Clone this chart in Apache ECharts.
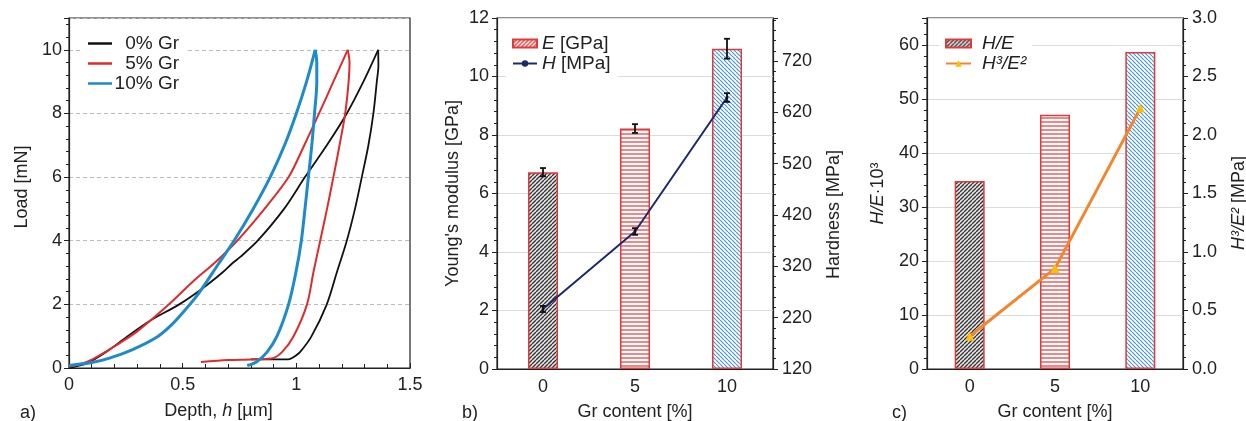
<!DOCTYPE html>
<html>
<head>
<meta charset="utf-8">
<script src="https://cdn.jsdelivr.net/npm/echarts@6.0.0/dist/echarts.min.js"></script>
<style>
  html, body { margin: 0; padding: 0; background: #fff; }
  #main { width: 1246px; height: 421px; }
</style>
</head>
<body>
<div id="main"></div>
<script>
// panel a: load-depth curves [depth um, load mN], loading and unloading
var gr0Load = [[0, 0], [0.08, 0.15], [0.163, 0.5], [0.258, 1], [0.36, 1.5], [0.485, 2], [0.587, 2.5], [0.675, 3], [0.72, 3.3], [0.755, 3.5], [0.83, 4], [0.946, 5], [1.038, 6], [1.134, 7], [1.222, 8], [1.295, 9], [1.36, 10]];
var gr0Unload = [[1.36, 10], [1.361, 9.5], [1.354, 9], [1.339, 8], [1.317, 7], [1.288, 6], [1.258, 5], [1.222, 4], [1.178, 3], [1.134, 2], [1.067, 1], [1.016, 0.5], [0.985, 0.33], [0.965, 0.27], [0.8, 0.27]];
var gr5Load = [[0, 0.05], [0.05, 0.12], [0.105, 0.28], [0.2, 0.68], [0.3, 1.15], [0.44, 2], [0.55, 2.75], [0.64, 3.3], [0.74, 4], [0.86, 5], [0.966, 6], [1.035, 7], [1.1, 8], [1.163, 9], [1.226, 10]];
var gr5Unload = [[1.226, 10], [1.234, 9.6], [1.23, 9], [1.215, 8], [1.19, 7], [1.163, 6], [1.135, 5], [1.105, 4], [1.075, 3], [1.047, 2], [0.988, 1], [0.937, 0.5], [0.89, 0.3], [0.8, 0.27], [0.7, 0.25], [0.58, 0.19]];
var gr10Load = [[0, 0.08], [0.1, 0.17], [0.178, 0.31], [0.28, 0.58], [0.38, 0.94], [0.45, 1.35], [0.514, 1.85], [0.572, 2.36], [0.66, 3.3], [0.726, 4], [0.81, 5], [0.885, 6], [0.948, 7], [1.0, 8], [1.045, 9], [1.083, 10]];
var gr10Unload = [[1.083, 10], [1.09, 9.6], [1.09, 9], [1.08, 8], [1.068, 7], [1.053, 6], [1.038, 5], [1.022, 4], [0.998, 3], [0.966, 2], [0.915, 1], [0.871, 0.5], [0.826, 0.2], [0.784, 0.08]];

// panels b and c
var grContent = ['0', '5', '10'];
var modulusE = [6.73, 8.22, 10.95];
var modulusErr = [0.14, 0.15, 0.34];
var hardnessH = [237, 388, 649];
var hardnessErr = [6, 6.5, 8.5];
var ratioHE = [34.8, 47.1, 58.7];
var ratioH3E2 = [0.28, 0.86, 2.23];

var FONT = "'Liberation Sans', Arial, sans-serif";
var INK = '#222';

function hatch(bg, fg, kind, size, lw) {
  var c = document.createElement('canvas');
  c.width = size; c.height = size;
  var g = c.getContext('2d');
  g.fillStyle = bg;
  g.fillRect(0, 0, size, size);
  g.strokeStyle = fg;
  g.lineWidth = lw;
  g.beginPath();
  if (kind === 'h') {
    g.moveTo(0, size / 2); g.lineTo(size, size / 2);
  } else {
    for (var k = -size; k <= size; k += size) {
      if (kind === '/') { g.moveTo(k, size); g.lineTo(k + size, 0); }
      else { g.moveTo(k, 0); g.lineTo(k + size, size); }
    }
  }
  g.stroke();
  return { image: c, repeat: 'repeat' };
}

var patBlack = hatch('#e6e6e6', '#333', '/', 4, 1.3);
var patRed = hatch('#fff', '#e23a3a', 'h', 4, 1.2);
var patBlue = hatch('#fff', '#4a98d4', '\\', 4, 1.2);
var patLegendE = hatch('#fff', '#e23a3a', '/', 4, 1.4);
var barPats = [patBlack, patRed, patBlue];

function barData(vals) {
  return vals.map(function (v, i) {
    return { value: v, itemStyle: { color: barPats[i] } };
  });
}

function errData(vals, errs) {
  return vals.map(function (v, i) { return [i, v, errs[i]]; });
}

function errRender(params, api) {
  var x = api.value(0), v = api.value(1), e = api.value(2);
  var hi = api.coord([x, v + e]);
  var lo = api.coord([x, v - e]);
  var w = 3;
  var st = { stroke: '#111', lineWidth: 1.8 };
  return {
    type: 'group',
    children: [
      { type: 'line', shape: { x1: hi[0], y1: hi[1], x2: lo[0], y2: lo[1] }, style: st },
      { type: 'line', shape: { x1: hi[0] - w, y1: hi[1], x2: hi[0] + w, y2: hi[1] }, style: st },
      { type: 'line', shape: { x1: lo[0] - w, y1: lo[1], x2: lo[0] + w, y2: lo[1] }, style: st }
    ]
  };
}

var tickLabel = { color: INK, fontSize: 18, fontFamily: FONT };
var nameStyle = {
  color: INK, fontSize: 18, fontFamily: FONT,
  rich: {
    i: { fontStyle: 'italic', fontSize: 18, fontFamily: FONT, color: INK },
    n: { fontSize: 18, fontFamily: FONT, color: INK }
  }
};
var axisLine = { show: true, lineStyle: { color: INK, width: 1.2 } };

function valueAxis(o) {
  var base = {
    type: 'value',
    axisLine: axisLine,
    axisTick: { show: true, length: 5, lineStyle: { color: INK } },
    minorTick: { show: true, splitNumber: 5, length: 3, lineStyle: { color: INK } },
    axisLabel: tickLabel,
    nameLocation: 'middle',
    nameTextStyle: nameStyle,
    splitLine: { show: false }
  };
  for (var k in o) base[k] = o[k];
  return base;
}

function curve(name, data, color, width) {
  return {
    name: name, type: 'line', xAxisIndex: 0, yAxisIndex: 0, data: data,
    smooth: 0.3, symbol: 'none',
    lineStyle: { color: color, width: width }, itemStyle: { color: color }
  };
}

var chart = echarts.init(document.getElementById('main'), null, { renderer: 'canvas' });

var panelTitle = { fontSize: 18, fontWeight: 'normal', color: INK, fontFamily: FONT };

var option = {
  animation: false,
  backgroundColor: '#fff',
  textStyle: { fontFamily: FONT },
  title: [
    { text: 'a)', left: 20, top: 404, padding: 0, textStyle: panelTitle },
    { text: 'b)', left: 462, top: 404, padding: 0, textStyle: panelTitle },
    { text: 'c)', left: 892, top: 404, padding: 0, textStyle: panelTitle }
  ],
  grid: [
    { left: 69, top: 18, width: 341, height: 350, show: true, borderColor: INK, borderWidth: 1.2, outerBoundsMode: 'none' },
    { left: 497, top: 18, width: 276, height: 351, show: true, borderColor: INK, borderWidth: 1.2, outerBoundsMode: 'none' },
    { left: 927, top: 18, width: 256, height: 351, show: true, borderColor: INK, borderWidth: 1.2, outerBoundsMode: 'none' }
  ],
  legend: [
    {
      data: ['0% Gr', '5% Gr', '10% Gr'],
      icon: 'rect',
      orient: 'vertical', left: 80, top: 29,
      padding: [5, 9, 5, 8], itemGap: 1, itemWidth: 24, itemHeight: 2.5,
      backgroundColor: '#fff',
      formatter: function (n) { return '{r|' + n + '}'; },
      textStyle: {
        fontSize: 19, fontFamily: FONT, color: INK,
        rich: { r: { width: 62, align: 'right', fontSize: 19, fontFamily: FONT, color: INK, lineHeight: 18 } }
      }
    },
    {
      data: [{ name: 'E [GPa]', icon: 'rect' }, { name: 'H [MPa]' }],
      orient: 'vertical', left: 506, top: 29,
      padding: [5, 8, 5, 6], itemGap: 1, itemWidth: 24, itemHeight: 8,
      backgroundColor: '#fff',
      formatter: function (n) { return '{i|' + n.charAt(0) + '}{n|' + n.slice(1) + '}'; },
      textStyle: {
        fontSize: 19, fontFamily: FONT, color: INK,
        rich: {
          i: { fontStyle: 'italic', fontSize: 19, fontFamily: FONT, color: INK, lineHeight: 18 },
          n: { fontSize: 19, fontFamily: FONT, color: INK, lineHeight: 18 }
        }
      }
    },
    {
      data: [{ name: 'H/E', icon: 'rect' }, { name: 'H³/E²' }],
      orient: 'vertical', left: 939, top: 29,
      padding: [5, 6, 5, 6], itemGap: 1, itemWidth: 25, itemHeight: 8,
      backgroundColor: '#fff',
      formatter: function (n) { return '{i|' + n + '}'; },
      textStyle: {
        fontSize: 19, fontFamily: FONT, color: INK,
        rich: { i: { fontStyle: 'italic', fontSize: 19, fontFamily: FONT, color: INK, lineHeight: 18, padding: [0, 0, 0, 6] } }
      }
    }
  ],
  xAxis: [
    valueAxis({
      gridIndex: 0, min: 0, max: 1.5, interval: 0.5,
      axisTick: { show: true, inside: true, length: 5, lineStyle: { color: INK } },
      minorTick: { show: true, splitNumber: 5, length: 4, lineStyle: { color: INK } },
      axisLabel: { color: INK, fontSize: 18, fontFamily: FONT, margin: 8 },
      name: '{n|Depth, }{i|h}{n| [µm]}', nameGap: 34,
      nameTextStyle: Object.assign({}, nameStyle, { padding: [0, 42, 0, 0] })
    }),
    {
      type: 'category', gridIndex: 1, data: grContent,
      axisLine: axisLine, axisTick: { show: false },
      axisLabel: { color: INK, fontSize: 18, fontFamily: FONT, margin: 9 },
      name: 'Gr content [%]', nameLocation: 'middle', nameGap: 34, nameTextStyle: nameStyle
    },
    {
      type: 'category', gridIndex: 2, data: grContent,
      axisLine: axisLine, axisTick: { show: false },
      axisLabel: { color: INK, fontSize: 18, fontFamily: FONT, margin: 9 },
      name: 'Gr content [%]', nameLocation: 'middle', nameGap: 34, nameTextStyle: nameStyle
    }
  ],
  yAxis: [
    valueAxis({
      gridIndex: 0, min: 0, max: 11, interval: 2,
      axisLabel: { color: INK, fontSize: 18, fontFamily: FONT, margin: 7, showMaxLabel: false },
      splitLine: { show: true, lineStyle: { color: '#bdbdbd', type: [4, 3], width: 1 } },
      name: 'Load [mN]', nameGap: 38,
      nameTextStyle: Object.assign({}, nameStyle, { padding: [0, 0, 0, 12] })
    }),
    valueAxis({
      gridIndex: 1, min: 0, max: 12, interval: 2,
      axisLabel: { color: INK, fontSize: 18, fontFamily: FONT, margin: 8 },
      splitLine: { show: true, lineStyle: { color: '#dcdcdc', width: 1.2 } },
      name: "Young's modulus [GPa]", nameGap: 35
    }),
    valueAxis({
      gridIndex: 1, position: 'right', min: 120, max: 804, interval: 100,
      axisLabel: { color: INK, fontSize: 18, fontFamily: FONT, margin: 9, showMaxLabel: false },
      name: 'Hardness [MPa]', nameGap: 52,
      nameTextStyle: Object.assign({}, nameStyle, { padding: [0, 42, 0, 0] })
    }),
    valueAxis({
      gridIndex: 2, min: 0, max: 65, interval: 10,
      axisLabel: { color: INK, fontSize: 18, fontFamily: FONT, margin: 8, showMaxLabel: false },
      splitLine: { show: true, lineStyle: { color: '#dcdcdc', width: 1.2 } },
      name: '{i|H/E}{n|·10³}', nameGap: 40
    }),
    valueAxis({
      gridIndex: 2, position: 'right', min: 0, max: 3, interval: 0.5,
      axisLabel: {
        color: INK, fontSize: 18, fontFamily: FONT, margin: 9,
        formatter: function (v) { return v.toFixed(1); }
      },
      name: '{i|H³/E²}{n| [MPa]}', nameGap: 47,
      nameTextStyle: Object.assign({}, nameStyle, { padding: [0, 19, 0, 0] })
    })
  ],
  series: [
    curve('0% Gr', gr0Load, '#111', 1.8),
    curve('0% Gr', gr0Unload, '#111', 1.8),
    curve('5% Gr', gr5Load, '#df2b2b', 2),
    curve('5% Gr', gr5Unload, '#df2b2b', 2),
    curve('10% Gr', gr10Load, '#1d8ac9', 3),
    curve('10% Gr', gr10Unload, '#1d8ac9', 3),

    {
      name: 'E [GPa]', type: 'bar', xAxisIndex: 1, yAxisIndex: 1, barWidth: 30,
      data: barData(modulusE),
      itemStyle: { color: patLegendE, borderColor: '#e23a3a', borderWidth: 1.5 }
    },
    {
      name: 'H [MPa]', type: 'line', xAxisIndex: 1, yAxisIndex: 2, data: hardnessH,
      symbol: 'circle', symbolSize: 3, z: 4,
      lineStyle: { color: '#1c2a6b', width: 2 }, itemStyle: { color: '#1c2a6b' }
    },
    { name: 'E err', type: 'custom', xAxisIndex: 1, yAxisIndex: 1, data: errData(modulusE, modulusErr), renderItem: errRender, encode: { x: 0, y: 1 }, z: 6 },
    { name: 'H err', type: 'custom', xAxisIndex: 1, yAxisIndex: 2, data: errData(hardnessH, hardnessErr), renderItem: errRender, encode: { x: 0, y: 1 }, z: 6 },

    {
      name: 'H/E', type: 'bar', xAxisIndex: 2, yAxisIndex: 3, barWidth: 30,
      data: barData(ratioHE),
      itemStyle: { color: patBlack, borderColor: '#e23a3a', borderWidth: 1.5 }
    },
    {
      name: 'H³/E²', type: 'line', xAxisIndex: 2, yAxisIndex: 4, data: ratioH3E2,
      symbol: 'triangle', symbolSize: 9, z: 4,
      lineStyle: { color: '#f5852d', width: 3 },
      itemStyle: { color: '#ffbf00' }
    }
  ]
};

chart.setOption(option);
</script>
</body>
</html>
